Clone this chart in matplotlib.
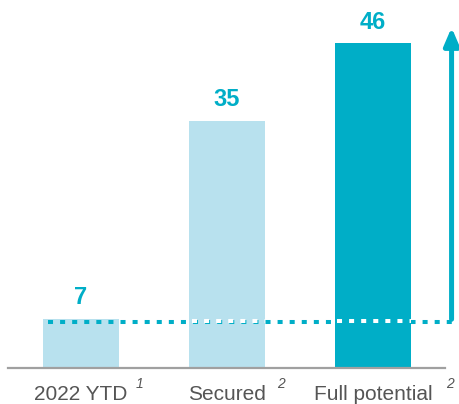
import matplotlib.pyplot as plt
from matplotlib import transforms

plt.rcParams['font.family'] = ['Liberation Sans', 'DejaVu Sans']

# data
categories = ['2022 YTD', 'Secured', 'Full potential']
footnotes = ['1', '2', '2']
values = [7, 35, 46]
baseline_value = 7

light = '#b8e1ee'
teal = '#00aec7'
colors = [light, light, teal]
grey_text = '#555555'

fig = plt.figure(figsize=(4.59, 4.04), dpi=100)
ax = fig.add_axes([8 / 459, 36 / 404, 437 / 459, 368 / 404])

x = list(range(len(categories)))
bars = ax.bar(x, values, width=0.52, color=colors, zorder=2)

# value labels above bars
for xi, v in zip(x, values):
    ax.annotate(str(v), (xi, v), xytext=(0, 15), textcoords='offset points',
                ha='center', va='center', fontsize=17, fontweight='bold', color=teal)

ax.set_xlim(-0.5, 2.493)
ax.set_ylim(0, 52.09)
ax.axis('off')

# base line
ax.axhline(0, color='#a0a0a0', lw=1.6, zorder=3, clip_on=False)

# dotted reference line at the 2022 level
dot_x = [-0.226, 2.54]
dot_y = [baseline_value - 0.5, baseline_value - 0.5]
ax.plot(dot_x, dot_y, color=teal, lw=2.9, linestyle=(0, (1.25, 1.75)),
        dash_capstyle='butt', zorder=4, clip_on=False)
# white shadow of the dots, only visible on top of the bars
shadow = transforms.offset_copy(ax.transData, fig=fig, x=-1.3, y=1.3, units='dots')
for b in bars[1:]:
    ln, = ax.plot(dot_x, dot_y, color='white', lw=2.9, linestyle=(0, (1.25, 1.75)),
                  dash_capstyle='butt', zorder=5, transform=shadow)
    ln.set_clip_path(b)

# upward arrow on the right
ax.annotate('', xy=(2.538, 48.2), xytext=(2.538, baseline_value - 0.1),
            arrowprops=dict(arrowstyle='-|>,head_length=1.05,head_width=0.45',
                            mutation_scale=10, color=teal, lw=3.6,
                            shrinkA=0, shrinkB=0),
            annotation_clip=False, zorder=6)

# category labels with superscript footnote marks
gaps = [8, 11, 14]
labels = []
for xi, cat in zip(x, categories):
    t = ax.annotate(cat, (xi, 0), xytext=(0, -23), textcoords='offset points',
                    ha='center', va='baseline', fontsize=15, color=grey_text,
                    annotation_clip=False)
    labels.append(t)

fig.canvas.draw()
for t, note, gap in zip(labels, footnotes, gaps):
    bb = t.get_window_extent()
    fig.text((bb.x1 + gap) / fig.bbox.width, (404 - 388) / fig.bbox.height, note,
             fontsize=10, style='italic', color=grey_text, ha='left', va='baseline')

fig.savefig('out.png', dpi=100)
